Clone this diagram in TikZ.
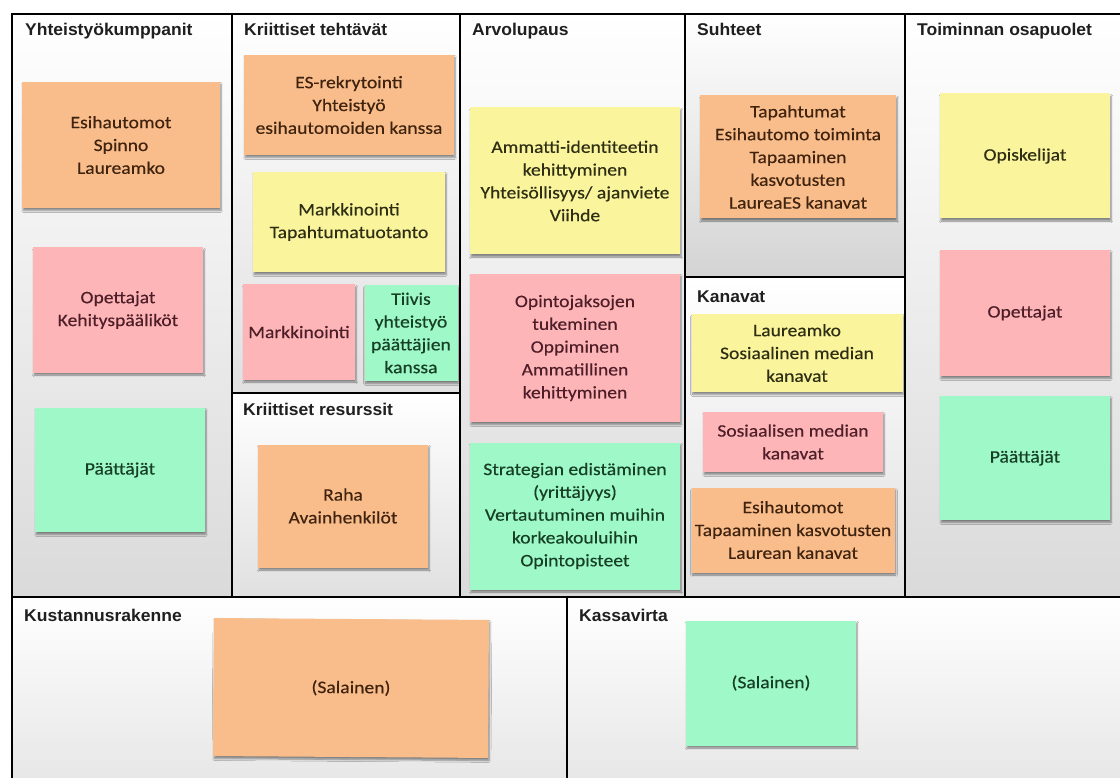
\documentclass[tikz,border=0pt]{standalone}
\usepackage{fontspec}
\setmainfont{Carlito}
\newfontfamily\notefont{Carlito}[FakeStretch=1.12, FakeBold=0.35]
\newfontfamily\headfont{Liberation Sans}[FakeStretch=1.03]
\usetikzlibrary{shadows.blur}

\definecolor{noteorange}{HTML}{F9BD8B}
\definecolor{notepink}{HTML}{FEB5B8}
\definecolor{noteyellow}{HTML}{FAF59C}
\definecolor{notegreen}{HTML}{9EF8C8}
\definecolor{txtorange}{HTML}{3F230E}
\definecolor{txtpink}{HTML}{4E1E28}
\definecolor{txtyellow}{HTML}{2E2E14}
\definecolor{txtgreen}{HTML}{163F24}
\definecolor{panelbottom}{HTML}{DADADA}

\tikzset{
  x=1pt, y=-1pt,
  panel/.style={top color=white, bottom color=#1},
  note/.style={rectangle, align=center, inner sep=0pt,
    font=\notefont\fontsize{17.5}{22.8}\selectfont,
    blur shadow={shadow xshift=1pt, shadow yshift=-2.5pt,
      shadow blur steps=6, shadow opacity=45}},
  onote/.style={note, fill=noteorange, text=txtorange},
  pnote/.style={note, fill=notepink, text=txtpink},
  ynote/.style={note, fill=noteyellow, text=txtyellow},
  gnote/.style={note, fill=notegreen, text=txtgreen},
  sz/.style 2 args={minimum width=#1pt, minimum height=#2pt},
  header/.style={anchor=base west, inner sep=0pt, text=black!88,
    font=\headfont\bfseries\fontsize{17}{19}\selectfont},
  rule/.style={draw=black, line width=1.6pt},
  heavyrule/.style={draw=black, line width=2.6pt},
}

\begin{document}
\begin{tikzpicture}
\useasboundingbox (0,0) rectangle (1120,778);
\clip (0,0) rectangle (1120,778);
\fill[white] (0,0) rectangle (1120,778);

% canvas panels, each fading from white to light grey
\fill[panel=panelbottom] (12,14) rectangle (232,597);
\fill[panel=black!12] (232,14) rectangle (460,393);
\fill[panel=black!12] (232,393) rectangle (460,597);
\fill[panel=panelbottom] (460,14) rectangle (685,597);
\fill[panel=black!17] (685,14) rectangle (905,277);
\fill[panel=black!12] (685,277) rectangle (905,597);
\fill[panel=panelbottom] (905,14) rectangle (1125,597);
\fill[panel=black!10] (12,597) rectangle (567,790);
\fill[panel=black!10] (567,597) rectangle (1125,790);

% panel borders
\draw[heavyrule] (12,790) -- (12,14) -- (1125,14);
\draw[rule] (232,14) -- (232,597);
\draw[heavyrule] (460,14) -- (460,597);
\draw[rule] (685,14) -- (685,597);
\draw[rule] (905,14) -- (905,597);
\draw[rule] (232,393) -- (460,393);
\draw[rule] (685,277) -- (905,277);
\draw[line width=2pt] (12,597) -- (1125,597);
\draw[rule] (567,597) -- (567,790);

% panel titles
\node[header] (h1) at (25,36) {Yhteistyökumppanit};
\node[header] (h2) at (244,36) {Kriittiset tehtävät};
\node[header] (h3) at (472,36) {Arvolupaus};
\node[header] (h4) at (697,36) {Suhteet};
\node[header] (h5) at (917,36) {Toiminnan osapuolet};
\node[header] (h6) at (243,415) {Kriittiset resurssit};
\node[header] (h7) at (697,302) {Kanavat};
\node[header] (h8) at (24,621) {Kustannusrakenne};
\node[header] (h9) at (579,621) {Kassavirta};

% Yhteistyökumppanit
\node[onote, sz={198}{126}] (k1) at (121,145) {Esihautomot\\Spinno\\Laureamko};
\node[pnote, sz={170}{125}] (k2) at (118,310) {Opettajat\\Kehityspääliköt};
\node[gnote, sz={170}{124}] (k3) at (120,470) {Päättäjät};

% Kriittiset tehtävät
\node[onote, sz={210}{100}] (t1) at (349,105) {ES-rekrytointi\\Yhteistyö\\esihautomoiden kanssa};
\node[ynote, sz={192}{100}] (t2) at (349,222) {Markkinointi\\Tapahtumatuotanto};
\node[pnote, sz={112}{95}] (t3) at (299,332) {Markkinointi};
\node[gnote, sz={93}{96}] (t4) at (411,333) {Tiivis\\yhteistyö\\päättäjien\\kanssa};

% Kriittiset resurssit
\node[onote, sz={170}{123}] (r1) at (343,506) {Raha\\Avainhenkilöt};

% Arvolupaus
\node[ynote, sz={210}{147}] (a1) at (575,181) {Ammatti-identiteetin\\kehittyminen\\Yhteisöllisyys/ ajanviete\\Viihde};
\node[pnote, sz={210}{148}] (a2) at (575,348) {Opintojaksojen\\tukeminen\\Oppiminen\\Ammatillinen\\kehittyminen};
\node[gnote, sz={210}{147}] (a3) at (575,516) {Strategian edistäminen\\(yrittäjyys)\\Vertautuminen muihin\\korkeakouluihin\\Opintopisteet};

% Suhteet
\node[onote, sz={196}{123}] (s1) at (798,157) {Tapahtumat\\Esihautomo toiminta\\Tapaaminen\\kasvotusten\\LaureaES kanavat};

% Kanavat
\node[ynote, sz={211}{78}] (c1) at (797,353) {Laureamko\\Sosiaalinen median\\kanavat};
\node[pnote, sz={180}{60}] (c2) at (793,442) {Sosiaalisen median\\kanavat};
\node[onote, sz={203}{85}] (c3) at (793,530) {Esihautomot\\Tapaaminen kasvotusten\\Laurean kanavat};

% Toiminnan osapuolet
\node[ynote, sz={170}{125}] (o1) at (1025,156) {Opiskelijat};
\node[pnote, sz={170}{126}] (o2) at (1025,313) {Opettajat};
\node[gnote, sz={170}{124}] (o3) at (1025,458) {Päättäjät};

% Kustannusrakenne and Kassavirta
\node[onote, sz={275}{138}, rotate=-0.4] (b1) at (351,688) {(Salainen)};
\node[gnote, sz={170}{125}] (b2) at (771,683) {(Salainen)};
\end{tikzpicture}
\end{document}
